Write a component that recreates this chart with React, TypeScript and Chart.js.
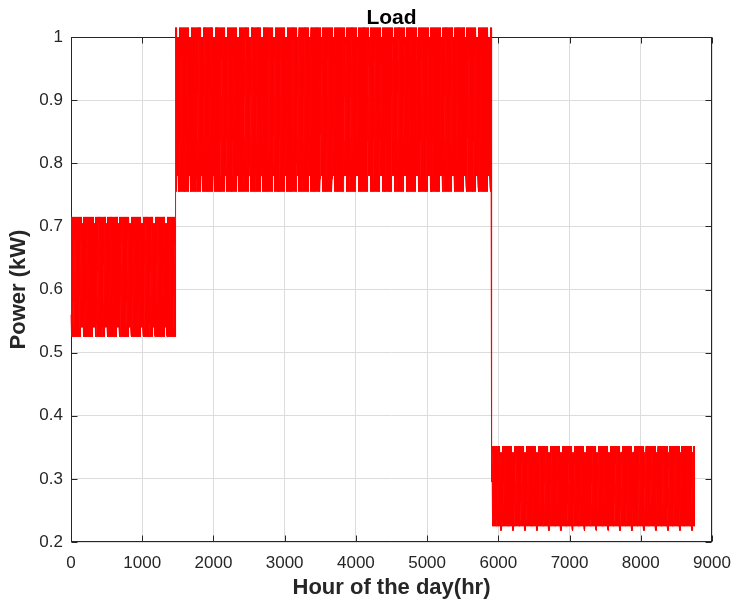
import React, { useEffect, useRef } from "react";
import { Chart, registerables } from "chart.js";

Chart.register(...registerables);

// Hour (1..8760) at which each load period ends
const periodEndHour = [1473, 5910, 8760];

// Day type for each day of the week: 0 = working day, 1 = rest day
const weekPattern = [0, 0, 0, 0, 0, 0, 1];

// Hourly load (kW), period 1
const p1Weekday = [0.560, 0.540, 0.528, 0.525, 0.545, 0.590, 0.640, 0.680, 0.705, 0.715, 0.695, 0.650, 0.600, 0.560, 0.535, 0.525, 0.540, 0.580, 0.630, 0.675, 0.705, 0.715, 0.680, 0.620];
const p1Weekend = [0.570, 0.552, 0.543, 0.540, 0.552, 0.585, 0.625, 0.660, 0.690, 0.705, 0.688, 0.645, 0.605, 0.570, 0.548, 0.540, 0.550, 0.585, 0.625, 0.665, 0.692, 0.705, 0.670, 0.620];

// Hourly load (kW), period 2
const p2Weekday = [0.810, 0.780, 0.762, 0.755, 0.780, 0.840, 0.910, 0.965, 1.000, 1.015, 0.990, 0.930, 0.860, 0.800, 0.765, 0.755, 0.775, 0.835, 0.905, 0.965, 1.000, 1.015, 0.975, 0.890];
const p2Weekend = [0.825, 0.800, 0.785, 0.780, 0.798, 0.845, 0.905, 0.955, 0.988, 1.000, 0.982, 0.930, 0.870, 0.820, 0.790, 0.780, 0.795, 0.845, 0.905, 0.955, 0.988, 1.000, 0.965, 0.890];

// Hourly load (kW), period 3
const p3Weekday = [0.250, 0.235, 0.228, 0.225, 0.235, 0.262, 0.295, 0.325, 0.343, 0.352, 0.338, 0.305, 0.270, 0.245, 0.230, 0.225, 0.233, 0.260, 0.293, 0.323, 0.343, 0.352, 0.330, 0.285];
const p3Weekend = [0.245, 0.228, 0.220, 0.218, 0.228, 0.255, 0.287, 0.315, 0.335, 0.342, 0.330, 0.298, 0.262, 0.238, 0.223, 0.218, 0.226, 0.252, 0.285, 0.315, 0.335, 0.342, 0.322, 0.278];

const xTicks = [0, 1000, 2000, 3000, 4000, 5000, 6000, 7000, 8000, 9000];
const yTicks = [0.2, 0.3, 0.4, 0.5, 0.6, 0.7, 0.8, 0.9, 1];

const titleText = "Load";
const xLabel = "Hour of the day(hr)";
const yLabel = "Power (kW)";

const FONT = "'Liberation Sans', Arial, Helvetica, sans-serif";
const AXIS_COLOR = "#262626";

function buildSeries() {
  const profiles = [
    [p1Weekday, p1Weekend],
    [p2Weekday, p2Weekend],
    [p3Weekday, p3Weekend],
  ];
  const pts: { x: number; y: number }[] = [];
  const total = periodEndHour[periodEndHour.length - 1];
  let period = 0;
  for (let h = 0; h < total; h++) {
    const hour = h + 1;
    while (hour > periodEndHour[period]) period++;
    const day = Math.floor(h / 24);
    const type = weekPattern[day % 7];
    pts.push({ x: hour, y: profiles[period][type][h % 24] });
  }
  return pts;
}

const boxPlugin = {
  id: "matlabBox",
  beforeDatasetsDraw(chart: any) {
    const { ctx, chartArea } = chart;
    const l = Math.round(chartArea.left) + 0.5;
    const r = Math.round(chartArea.right) - 0.5;
    const t = Math.round(chartArea.top) + 0.5;
    const b = Math.round(chartArea.bottom) - 0.5;
    ctx.save();
    ctx.strokeStyle = AXIS_COLOR;
    ctx.lineWidth = 1;
    ctx.strokeRect(l, t, r - l, b - t);
    const len = 6;
    const xs = chart.scales.x;
    const ys = chart.scales.y;
    ctx.beginPath();
    xTicks.forEach((v) => {
      const px = Math.round(xs.getPixelForValue(v)) + 0.5;
      ctx.moveTo(px, b);
      ctx.lineTo(px, b - len);
      ctx.moveTo(px, t);
      ctx.lineTo(px, t + len);
    });
    yTicks.forEach((v) => {
      const py = Math.round(ys.getPixelForValue(v)) + 0.5;
      ctx.moveTo(l, py);
      ctx.lineTo(l + len, py);
      ctx.moveTo(r, py);
      ctx.lineTo(r - len, py);
    });
    ctx.stroke();
    ctx.restore();
  },
  afterDraw(chart: any) {
    const { ctx, chartArea } = chart;
    ctx.save();
    ctx.fillStyle = "#000000";
    ctx.font = `bold 21px ${FONT}`;
    ctx.textAlign = "center";
    ctx.textBaseline = "middle";
    ctx.fillText(titleText, (chartArea.left + chartArea.right) / 2, 18);
    ctx.restore();
  },
};

export default function App() {
  const ref = useRef<HTMLCanvasElement | null>(null);

  useEffect(() => {
    if (!ref.current) return;
    const chart = new Chart(ref.current, {
      type: "line",
      data: {
        datasets: [
          {
            label: titleText,
            data: buildSeries(),
            borderColor: "#ff0000",
            backgroundColor: "#ff0000",
            borderWidth: 1,
            pointRadius: 0,
            tension: 0,
            clip: false as any,
          },
        ],
      },
      options: {
        animation: false,
        responsive: true,
        maintainAspectRatio: false,
        parsing: false,
        normalized: true,
        layout: { padding: { top: 37, right: 22, left: 0, bottom: 0 } },
        plugins: {
          legend: { display: false },
          tooltip: { enabled: false },
          title: { display: false },
        },
        scales: {
          x: {
            type: "linear",
            min: 0,
            max: 9000,
            afterFit: (s: any) => {
              s.height = 59;
              s.paddingLeft = 0;
              s.paddingRight = 0;
            },
            afterBuildTicks: (s: any) => {
              s.ticks = xTicks.map((v) => ({ value: v }));
            },
            ticks: {
              color: AXIS_COLOR,
              font: { family: FONT, size: 17 },
              padding: 11,
              maxRotation: 0,
              autoSkip: false,
              callback: (v: any) => String(v),
            },
            grid: { color: "#dcdcdc", drawTicks: false, tickLength: 0 },
            border: { display: false },
            title: {
              display: true,
              text: xLabel,
              color: AXIS_COLOR,
              font: { family: FONT, size: 22, weight: "bold" },
              padding: { top: 0, bottom: 0 },
            },
          },
          y: {
            type: "linear",
            min: 0.2,
            max: 1,
            afterFit: (s: any) => {
              s.width = 71;
              s.paddingTop = 0;
              s.paddingBottom = 0;
            },
            afterBuildTicks: (s: any) => {
              s.ticks = yTicks.map((v) => ({ value: v }));
            },
            ticks: {
              color: AXIS_COLOR,
              font: { family: FONT, size: 17 },
              padding: 8,
              autoSkip: false,
              callback: (v: any) => String(Number(Number(v).toFixed(1))),
            },
            grid: { color: "#dcdcdc", drawTicks: false, tickLength: 0 },
            border: { display: false },
            title: {
              display: true,
              text: yLabel,
              color: AXIS_COLOR,
              font: { family: FONT, size: 22, weight: "bold" },
              padding: { top: 5.5, bottom: 0 },
            },
          },
        },
      },
      plugins: [boxPlugin],
    });
    return () => chart.destroy();
  }, []);

  return (
    <div
      style={{
        position: "fixed",
        left: 0,
        top: 0,
        width: 734,
        height: 601,
        background: "#ffffff",
      }}
    >
      <canvas ref={ref} />
    </div>
  );
}
